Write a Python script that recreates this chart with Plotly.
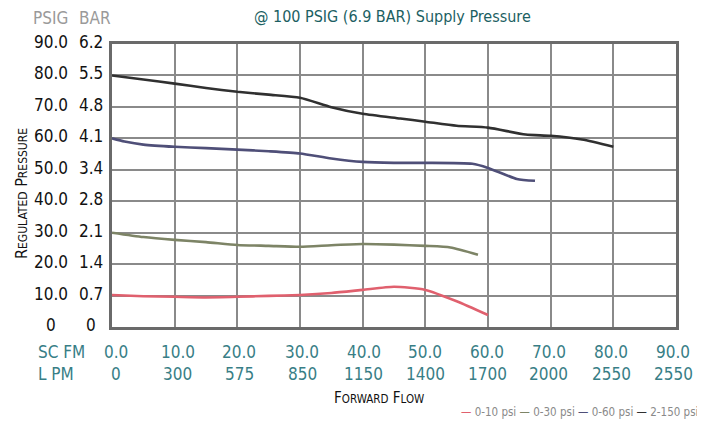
import plotly.graph_objects as go

# ---- data ----
flow_10 = [0, 5, 10, 15, 20, 25, 30, 35, 40, 45, 50, 55, 60]
psi_10 = [10.2, 9.8, 9.6, 9.4, 9.6, 9.9, 10.2, 10.8, 11.8, 12.8, 11.8, 8.2, 3.8]

flow_30 = [0, 5, 10, 15, 20, 25, 30, 35, 40, 45, 50, 54, 58.4]
psi_30 = [30.0, 28.6, 27.7, 27.0, 26.1, 25.8, 25.5, 26.0, 26.4, 26.2, 25.8, 25.3, 23.0]

flow_60 = [0, 2, 5, 10, 15, 20, 25, 30, 35, 40, 45, 50, 57.5, 60, 64.6, 67.5]
psi_60 = [60.0, 59.0, 58.0, 57.3, 56.9, 56.4, 55.9, 55.2, 53.6, 52.5, 52.2, 52.2, 51.9, 50.6, 47.1, 46.5]

flow_150 = [0, 5, 10, 15, 20, 25, 30, 35, 40, 46, 50, 55, 60, 66, 70, 75, 80]
psi_150 = [80.0, 78.7, 77.4, 76.0, 74.8, 73.9, 72.9, 69.9, 67.8, 66.3, 65.3, 64.0, 63.4, 61.2, 60.8, 59.6, 57.3]

series_names = ["0-10 psi", "0-30 psi", "0-60 psi", "2-150 psi"]
series_colors = ["#e0606e", "#7d8466", "#4f4f78", "#303030"]

psig_ticks = [0, 10, 20, 30, 40, 50, 60, 70, 80, 90]
psig_labels = ["0", "10.0", "20.0", "30.0", "40.0", "50.0", "60.0", "70.0", "80.0", "90.0"]
bar_labels = ["0", "0.7", "1.4", "2.1", "2.8", "3.4", "4.1", "4.8", "5.5", "6.2"]

scfm_ticks = [0, 10, 20, 30, 40, 50, 60, 70, 80, 90]
scfm_labels = ["0.0", "10.0", "20.0", "30.0", "40.0", "50.0", "60.0", "70.0", "80.0", "90.0"]
lpm_labels = ["0", "300", "575", "850", "1150", "1400", "1700", "2000", "2550", "2550"]

title_text = "@ 100 PSIG (6.9 BAR) Supply Pressure"

# ---- figure ----
FONT = "DejaVu Sans Condensed, Liberation Sans Narrow, sans-serif"
TEAL_DARK = "#1c5f63"
TEAL = "#387e86"
OFF = 8  # page body margin
W, H = 705 - OFF, 428 - OFF
# plot area in screenshot pixels: x 112..676, y 44..327
ML, MR, MT, MB = 112 - OFF, 705 - 676, 44 - OFF, 428 - 327
PW = W - ML - MR
PH = H - MT - MB

def px_x(px):
    return (px - OFF - ML) / PW

def px_y(py):
    return (H - MB - (py - OFF)) / PH

fig = go.Figure()
all_x = [flow_10, flow_30, flow_60, flow_150]
all_y = [psi_10, psi_30, psi_60, psi_150]
for xs, ys, name, col in zip(all_x, all_y, series_names, series_colors):
    fig.add_trace(go.Scatter(x=xs, y=ys, mode="lines", name=name,
                             line=dict(color=col, width=2.6, shape="spline", smoothing=0.6),
                             showlegend=False, hoverinfo="skip"))

annotations = []
annotations.append(dict(text=title_text, xref="paper", yref="paper", x=px_x(392), y=px_y(17),
                        xanchor="center", yanchor="middle", showarrow=False,
                        font=dict(family=FONT, size=16, color=TEAL_DARK)))
annotations.append(dict(text="PSIG", xref="paper", yref="paper", x=px_x(50), y=px_y(18),
                        xanchor="center", yanchor="middle", showarrow=False,
                        font=dict(family=FONT, size=17, color="#9a9a9a")))
annotations.append(dict(text="BAR", xref="paper", yref="paper", x=px_x(95), y=px_y(18),
                        xanchor="center", yanchor="middle", showarrow=False,
                        font=dict(family=FONT, size=17, color="#9a9a9a")))
for v, lp, lb in zip(psig_ticks, psig_labels, bar_labels):
    annotations.append(dict(text=lp, xref="paper", yref="y", x=px_x(51), y=v, yshift=2,
                            xanchor="center", yanchor="middle", showarrow=False,
                            font=dict(family=FONT, size=17, color="#111111")))
    annotations.append(dict(text=lb, xref="paper", yref="y", x=px_x(91), y=v, yshift=2,
                            xanchor="center", yanchor="middle", showarrow=False,
                            font=dict(family=FONT, size=17, color="#111111")))
sc = "font-size:12px"
annotations.append(dict(text=f"R<span style='{sc}'>EGULATED</span> P<span style='{sc}'>RESSURE</span>",
                        xref="paper", yref="paper", x=px_x(21), y=px_y(194), textangle=-90,
                        xanchor="center", yanchor="middle", showarrow=False,
                        font=dict(family=FONT, size=16, color="#111111")))
annotations.append(dict(text="SC FM", xref="paper", yref="paper", x=px_x(36), y=px_y(352),
                        xanchor="left", yanchor="middle", showarrow=False,
                        font=dict(family=FONT, size=17, color=TEAL)))
annotations.append(dict(text="L PM", xref="paper", yref="paper", x=px_x(36), y=px_y(374),
                        xanchor="left", yanchor="middle", showarrow=False,
                        font=dict(family=FONT, size=17, color=TEAL)))
for i, (v, ls, ll) in enumerate(zip(scfm_ticks, scfm_labels, lpm_labels)):
    shift = round(4 - 0.8 * i)
    annotations.append(dict(text=ls, xref="x", yref="paper", x=v, y=0, yshift=-25, xshift=shift,
                            xanchor="center", yanchor="middle", showarrow=False,
                            font=dict(family=FONT, size=17, color=TEAL)))
    annotations.append(dict(text=ll, xref="x", yref="paper", x=v, y=0, yshift=-47, xshift=shift,
                            xanchor="center", yanchor="middle", showarrow=False,
                            font=dict(family=FONT, size=17, color=TEAL)))
sc2 = "font-size:11.5px"
annotations.append(dict(text=f"F<span style='{sc2}'>ORWARD</span> F<span style='{sc2}'>LOW</span>",
                        xref="paper", yref="paper", x=px_x(379), y=px_y(398),
                        xanchor="center", yanchor="middle", showarrow=False,
                        font=dict(family=FONT, size=15, color="#111111")))
leg_parts = [f"<span style='color:{c}'>—</span> {n}" for n, c in zip(series_names, series_colors)]
annotations.append(dict(text=" ".join(leg_parts), xref="paper", yref="paper",
                        x=px_x(700), y=px_y(412), xanchor="right", yanchor="middle",
                        showarrow=False, font=dict(family=FONT, size=11.5, color="#8a8a8a")))

fig.update_layout(
    width=W, height=H,
    margin=dict(l=ML, r=MR, t=MT, b=MB),
    paper_bgcolor="white", plot_bgcolor="white",
    showlegend=False,
    annotations=annotations,
    xaxis=dict(range=[0, 90], tickvals=scfm_ticks, showticklabels=False, ticks="",
               showgrid=True, gridcolor="#8a8a8a", gridwidth=1.5, zeroline=False,
               showline=True, linecolor="#6a6a6a", linewidth=3, mirror=True, fixedrange=True),
    yaxis=dict(range=[0, 90], tickvals=psig_ticks, showticklabels=False, ticks="",
               showgrid=True, gridcolor="#8a8a8a", gridwidth=1.5, zeroline=False,
               showline=True, linecolor="#6a6a6a", linewidth=3, mirror=True, fixedrange=True),
)

fig.write_html("out.html")
